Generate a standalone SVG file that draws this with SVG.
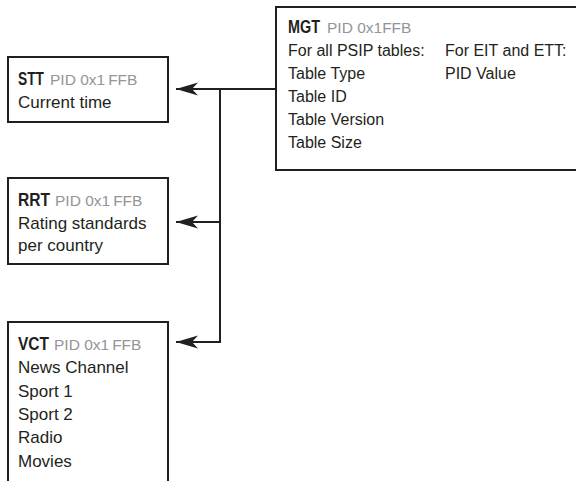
<svg xmlns="http://www.w3.org/2000/svg" width="576" height="481" viewBox="0 0 576 481">
  <style>
    .box { fill: #ffffff; stroke: #231f20; stroke-width: 2; }
    .t { font-family: "Liberation Sans", Arial, sans-serif; font-size: 17px; fill: #231f20; }
    .tm { font-family: "Liberation Sans", Arial, sans-serif; font-size: 16px; fill: #231f20; }
    .h { font-family: "Liberation Sans", Arial, sans-serif; font-size: 17.5px; font-weight: bold; fill: #231f20; }
    .pid { font-family: "Liberation Sans", Arial, sans-serif; font-size: 15.5px; fill: #939598; }
    .wire { fill: none; stroke: #231f20; stroke-width: 2; }
  </style>
  <defs>
    <marker id="arrow" markerWidth="24" markerHeight="14" refX="22" refY="7" orient="auto" markerUnits="userSpaceOnUse">
      <path d="M0,0.5 L22,7 L0,13.5 L6,7 Z" fill="#231f20"/>
    </marker>
  </defs>
  <rect width="576" height="481" fill="#ffffff"/>

  <!-- Master Guide Table -->
  <g id="mgt">
    <rect class="box" x="276" y="7" width="310" height="163"/>
    <text x="288" y="33" class="h" textLength="32" lengthAdjust="spacingAndGlyphs">MGT</text>
    <text x="327" y="33" class="pid">PID 0x1FFB</text>
    <text class="tm" x="288" y="56">For all PSIP tables:</text>
    <text class="tm" x="288" y="79">Table Type</text>
    <text class="tm" x="288" y="102">Table ID</text>
    <text class="tm" x="288" y="125">Table Version</text>
    <text class="tm" x="288" y="148">Table Size</text>
    <text class="tm" x="445" y="56">For EIT and ETT:</text>
    <text class="tm" x="445" y="79">PID Value</text>
  </g>

  <!-- System Time Table -->
  <g id="stt">
    <rect class="box" x="8" y="57" width="160" height="65"/>
    <text x="18" y="85" class="h" textLength="26" lengthAdjust="spacingAndGlyphs">STT</text>
    <text x="50" y="85" class="pid">PID 0x1<tspan dx="3">FFB</tspan></text>
    <text class="t" x="18" y="108">Current time</text>
  </g>

  <!-- Rating Region Table -->
  <g id="rrt">
    <rect class="box" x="8" y="178" width="160" height="86"/>
    <text x="18" y="206" class="h" textLength="32" lengthAdjust="spacingAndGlyphs">RRT</text>
    <text x="55" y="206" class="pid">PID 0x1<tspan dx="3">FFB</tspan></text>
    <text class="t" x="18" y="229">Rating standards</text>
    <text class="t" x="18" y="251">per country</text>
  </g>

  <!-- Virtual Channel Table -->
  <g id="vct">
    <path class="box" d="M8,490 L8,322 L168,322 L168,490"/>
    <text x="18" y="350" class="h" textLength="31" lengthAdjust="spacingAndGlyphs">VCT</text>
    <text x="54" y="350" class="pid">PID 0x1<tspan dx="3">FFB</tspan></text>
    <text class="t" x="18" y="373">News Channel</text>
    <text class="t" x="18" y="397">Sport 1</text>
    <text class="t" x="18" y="420">Sport 2</text>
    <text class="t" x="18" y="443">Radio</text>
    <text class="t" x="18" y="467">Movies</text>
  </g>

  <!-- Connectors from MGT to the other tables -->
  <g id="connectors">
    <path class="wire" d="M276,89 L176,89" marker-end="url(#arrow)"/>
    <path class="wire" d="M220,89 L220,342 L176,342" marker-end="url(#arrow)"/>
    <path class="wire" d="M220,222 L176,222" marker-end="url(#arrow)"/>
  </g>
</svg>
